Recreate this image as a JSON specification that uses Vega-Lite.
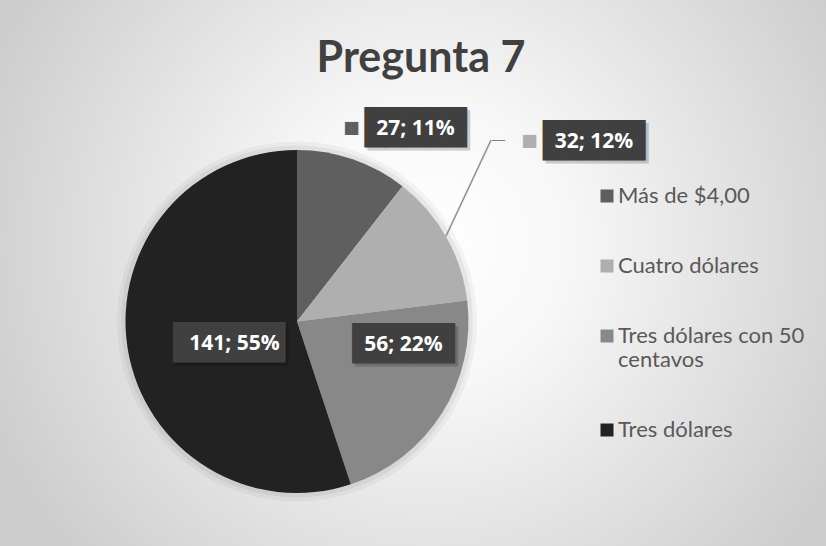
{
  "$schema": "https://vega.github.io/schema/vega-lite/v6.json",
  "width": 584,
  "height": 449,
  "autosize": "none",
  "padding": {"left": 5, "top": 97, "right": 237, "bottom": 0},
  "background": "#dadada",
  "title": {"text": "Pregunta 7", "font": "Lato", "fontSize": 43, "fontWeight": "bold", "color": "#404040", "anchor": "middle", "dx": 124, "baseline": "alphabetic", "offset": -443.5},
  "config": {"view": {"stroke": null}},
  "datasets": {
    "votos": [
      {"cat": "Más de $4,00", "n": 27, "etiqueta": "27; 11%", "orden": 1},
      {"cat": "Cuatro dólares", "n": 32, "etiqueta": "32; 12%", "orden": 2},
      {"cat": "Tres dólares con 50 centavos", "n": 56, "etiqueta": "56; 22%", "orden": 3},
      {"cat": "Tres dólares", "n": 141, "etiqueta": "141; 55%", "orden": 4}
    ],
    "fondo": [{}]
  },
  "data": {"name": "votos"},
  "layer": [
    {"data": {"name": "fondo"}, "mark": {"type": "arc", "theta": 0, "theta2": 6.2832, "outerRadius": 650, "fill": {"gradient": "radial", "x1": 0.6, "y1": 0.44, "r1": 0, "x2": 0.6, "y2": 0.44, "r2": 0.36, "stops": [{"offset": 0, "color": "#ffffff"}, {"offset": 0.3, "color": "#f7f7f7"}, {"offset": 1, "color": "#cdcdcd"}]}}, "encoding": {}},
    {"data": {"name": "fondo"}, "mark": {"type": "arc", "theta": 0, "theta2": 6.2832, "outerRadius": 180, "fill": "#000000", "opacity": 0.04}, "encoding": {}},
    {"data": {"name": "fondo"}, "mark": {"type": "arc", "theta": 0, "theta2": 6.2832, "outerRadius": 176, "fill": "#000000", "opacity": 0.05}, "encoding": {}},
    {
      "mark": {"type": "arc", "outerRadius": 171.5},
      "encoding": {
        "theta": {"field": "n", "type": "quantitative", "stack": true},
        "order": {"field": "orden", "type": "quantitative"},
        "color": {"field": "cat", "type": "nominal",
          "scale": {"domain": ["Más de $4,00", "Cuatro dólares", "Tres dólares con 50 centavos", "Tres dólares"], "range": ["#5f5f5f", "#afafaf", "#888888", "#222222"]},
          "legend": {"title": null, "orient": "none", "legendX": 591, "legendY": 88, "padding": 0, "symbolType": "square", "symbolSize": 169, "symbolStrokeWidth": 0, "labelFont": "Lato", "labelFontSize": 22, "labelColor": "#595959", "labelOffset": 0, "labelLimit": 300, "rowPadding": 48,
            "labelExpr": "datum.label === 'Tres dólares con 50 centavos' ? ['Tres dólares con 50', 'centavos'] : datum.label"}
        }
      }
    },
    {"mark": {"type": "text", "radius": 200, "dx": 56.5, "dy": 0.1, "font": "DejaVu Sans Mono", "fontSize": 34, "fill": "#000000", "opacity": 0.18, "align": "center", "baseline": "middle"},
     "encoding": {"theta": {"field": "n", "type": "quantitative", "stack": true}, "order": {"field": "orden", "type": "quantitative"}, "detail": {"field": "cat"}, "text": {"condition": {"test": "datum.cat === 'Más de $4,00'", "value": "█████"}, "value": ""}}},
    {"mark": {"type": "text", "radius": 200, "dx": 53.5, "dy": -2.9, "font": "DejaVu Sans Mono", "fontSize": 34, "fill": "#404040", "align": "center", "baseline": "middle"},
     "encoding": {"theta": {"field": "n", "type": "quantitative", "stack": true}, "order": {"field": "orden", "type": "quantitative"}, "detail": {"field": "cat"}, "text": {"condition": {"test": "datum.cat === 'Más de $4,00'", "value": "█████"}, "value": ""}}},
    {"mark": {"type": "text", "radius": 200, "dx": 53.5, "dy": -2.9, "font": "Open Sans", "fontSize": 21, "fontWeight": "bold", "fill": "#ffffff", "align": "center", "baseline": "middle"},
     "encoding": {"theta": {"field": "n", "type": "quantitative", "stack": true}, "order": {"field": "orden", "type": "quantitative"}, "detail": {"field": "cat"}, "text": {"condition": {"test": "datum.cat === 'Más de $4,00'", "field": "etiqueta"}, "value": ""}}},
    {"mark": {"type": "text", "radius": 200, "dx": -10.5, "dy": -2.9, "font": "DejaVu Sans Mono", "fontSize": 11, "fill": "#5f5f5f", "align": "center", "baseline": "middle"},
     "encoding": {"theta": {"field": "n", "type": "quantitative", "stack": true}, "order": {"field": "orden", "type": "quantitative"}, "detail": {"field": "cat"}, "text": {"condition": {"test": "datum.cat === 'Más de $4,00'", "value": "██"}, "value": ""}}},
    {"mark": {"type": "text", "radius": 300, "dx": 39, "dy": -29.1, "font": "DejaVu Sans Mono", "fontSize": 34, "fill": "#000000", "opacity": 0.18, "align": "center", "baseline": "middle"},
     "encoding": {"theta": {"field": "n", "type": "quantitative", "stack": true}, "order": {"field": "orden", "type": "quantitative"}, "detail": {"field": "cat"}, "text": {"condition": {"test": "datum.cat === 'Cuatro dólares'", "value": "█████"}, "value": ""}}},
    {"mark": {"type": "text", "radius": 300, "dx": 36, "dy": -32.1, "font": "DejaVu Sans Mono", "fontSize": 34, "fill": "#404040", "align": "center", "baseline": "middle"},
     "encoding": {"theta": {"field": "n", "type": "quantitative", "stack": true}, "order": {"field": "orden", "type": "quantitative"}, "detail": {"field": "cat"}, "text": {"condition": {"test": "datum.cat === 'Cuatro dólares'", "value": "█████"}, "value": ""}}},
    {"mark": {"type": "text", "radius": 300, "dx": 36, "dy": -32.1, "font": "Open Sans", "fontSize": 21, "fontWeight": "bold", "fill": "#ffffff", "align": "center", "baseline": "middle"},
     "encoding": {"theta": {"field": "n", "type": "quantitative", "stack": true}, "order": {"field": "orden", "type": "quantitative"}, "detail": {"field": "cat"}, "text": {"condition": {"test": "datum.cat === 'Cuatro dólares'", "field": "etiqueta"}, "value": ""}}},
    {"mark": {"type": "text", "radius": 300, "dx": -28.5, "dy": -32.1, "font": "DejaVu Sans Mono", "fontSize": 11, "fill": "#afafaf", "align": "center", "baseline": "middle"},
     "encoding": {"theta": {"field": "n", "type": "quantitative", "stack": true}, "order": {"field": "orden", "type": "quantitative"}, "detail": {"field": "cat"}, "text": {"condition": {"test": "datum.cat === 'Cuatro dólares'", "value": "██"}, "value": ""}}},
    {"mark": {"type": "text", "radius": 200, "dx": 30.4, "dy": -16.1, "angle": -64.8, "font": "DejaVu Sans Mono", "fontSize": 14.7, "fill": "#7f7f7f", "align": "center", "baseline": "middle"},
     "encoding": {"theta": {"field": "n", "type": "quantitative", "stack": true}, "order": {"field": "orden", "type": "quantitative"}, "detail": {"field": "cat"}, "text": {"condition": {"test": "datum.cat === 'Cuatro dólares'", "value": "────────────"}, "value": ""}}},
    {"mark": {"type": "text", "radius": 300, "dx": -59.5, "dy": -33.1, "font": "DejaVu Sans Mono", "fontSize": 10.8, "fill": "#7f7f7f", "align": "center", "baseline": "middle"},
     "encoding": {"theta": {"field": "n", "type": "quantitative", "stack": true}, "order": {"field": "orden", "type": "quantitative"}, "detail": {"field": "cat"}, "text": {"condition": {"test": "datum.cat === 'Cuatro dólares'", "value": "──"}, "value": ""}}},
    {"mark": {"type": "text", "radius": 110, "dx": 16.6, "dy": -32.3, "font": "DejaVu Sans Mono", "fontSize": 34, "fill": "#000000", "opacity": 0.18, "align": "center", "baseline": "middle"},
     "encoding": {"theta": {"field": "n", "type": "quantitative", "stack": true}, "order": {"field": "orden", "type": "quantitative"}, "detail": {"field": "cat"}, "text": {"condition": {"test": "datum.cat === 'Tres dólares con 50 centavos'", "value": "█████"}, "value": ""}}},
    {"mark": {"type": "text", "radius": 110, "dx": 13.6, "dy": -35.3, "font": "DejaVu Sans Mono", "fontSize": 34, "fill": "#404040", "align": "center", "baseline": "middle"},
     "encoding": {"theta": {"field": "n", "type": "quantitative", "stack": true}, "order": {"field": "orden", "type": "quantitative"}, "detail": {"field": "cat"}, "text": {"condition": {"test": "datum.cat === 'Tres dólares con 50 centavos'", "value": "█████"}, "value": ""}}},
    {"mark": {"type": "text", "radius": 110, "dx": 13.6, "dy": -35.3, "font": "Open Sans", "fontSize": 21, "fontWeight": "bold", "fill": "#ffffff", "align": "center", "baseline": "middle"},
     "encoding": {"theta": {"field": "n", "type": "quantitative", "stack": true}, "order": {"field": "orden", "type": "quantitative"}, "detail": {"field": "cat"}, "text": {"condition": {"test": "datum.cat === 'Tres dólares con 50 centavos'", "field": "etiqueta"}, "value": ""}}},
    {"mark": {"type": "text", "radius": 70, "dx": 9.6, "dy": 13.9, "font": "DejaVu Sans Mono", "fontSize": 34, "fill": "#000000", "opacity": 0.18, "align": "center", "baseline": "middle"},
     "encoding": {"theta": {"field": "n", "type": "quantitative", "stack": true}, "order": {"field": "orden", "type": "quantitative"}, "detail": {"field": "cat"}, "text": {"condition": {"test": "datum.cat === 'Tres dólares'", "value": "█████▌"}, "value": ""}}},
    {"mark": {"type": "text", "radius": 70, "dx": 6.6, "dy": 10.9, "font": "DejaVu Sans Mono", "fontSize": 34, "fill": "#404040", "align": "center", "baseline": "middle"},
     "encoding": {"theta": {"field": "n", "type": "quantitative", "stack": true}, "order": {"field": "orden", "type": "quantitative"}, "detail": {"field": "cat"}, "text": {"condition": {"test": "datum.cat === 'Tres dólares'", "value": "█████▌"}, "value": ""}}},
    {"mark": {"type": "text", "radius": 70, "dx": 6.6, "dy": 10.9, "font": "Open Sans", "fontSize": 21, "fontWeight": "bold", "fill": "#ffffff", "align": "center", "baseline": "middle"},
     "encoding": {"theta": {"field": "n", "type": "quantitative", "stack": true}, "order": {"field": "orden", "type": "quantitative"}, "detail": {"field": "cat"}, "text": {"condition": {"test": "datum.cat === 'Tres dólares'", "field": "etiqueta"}, "value": ""}}}
  ]
}
